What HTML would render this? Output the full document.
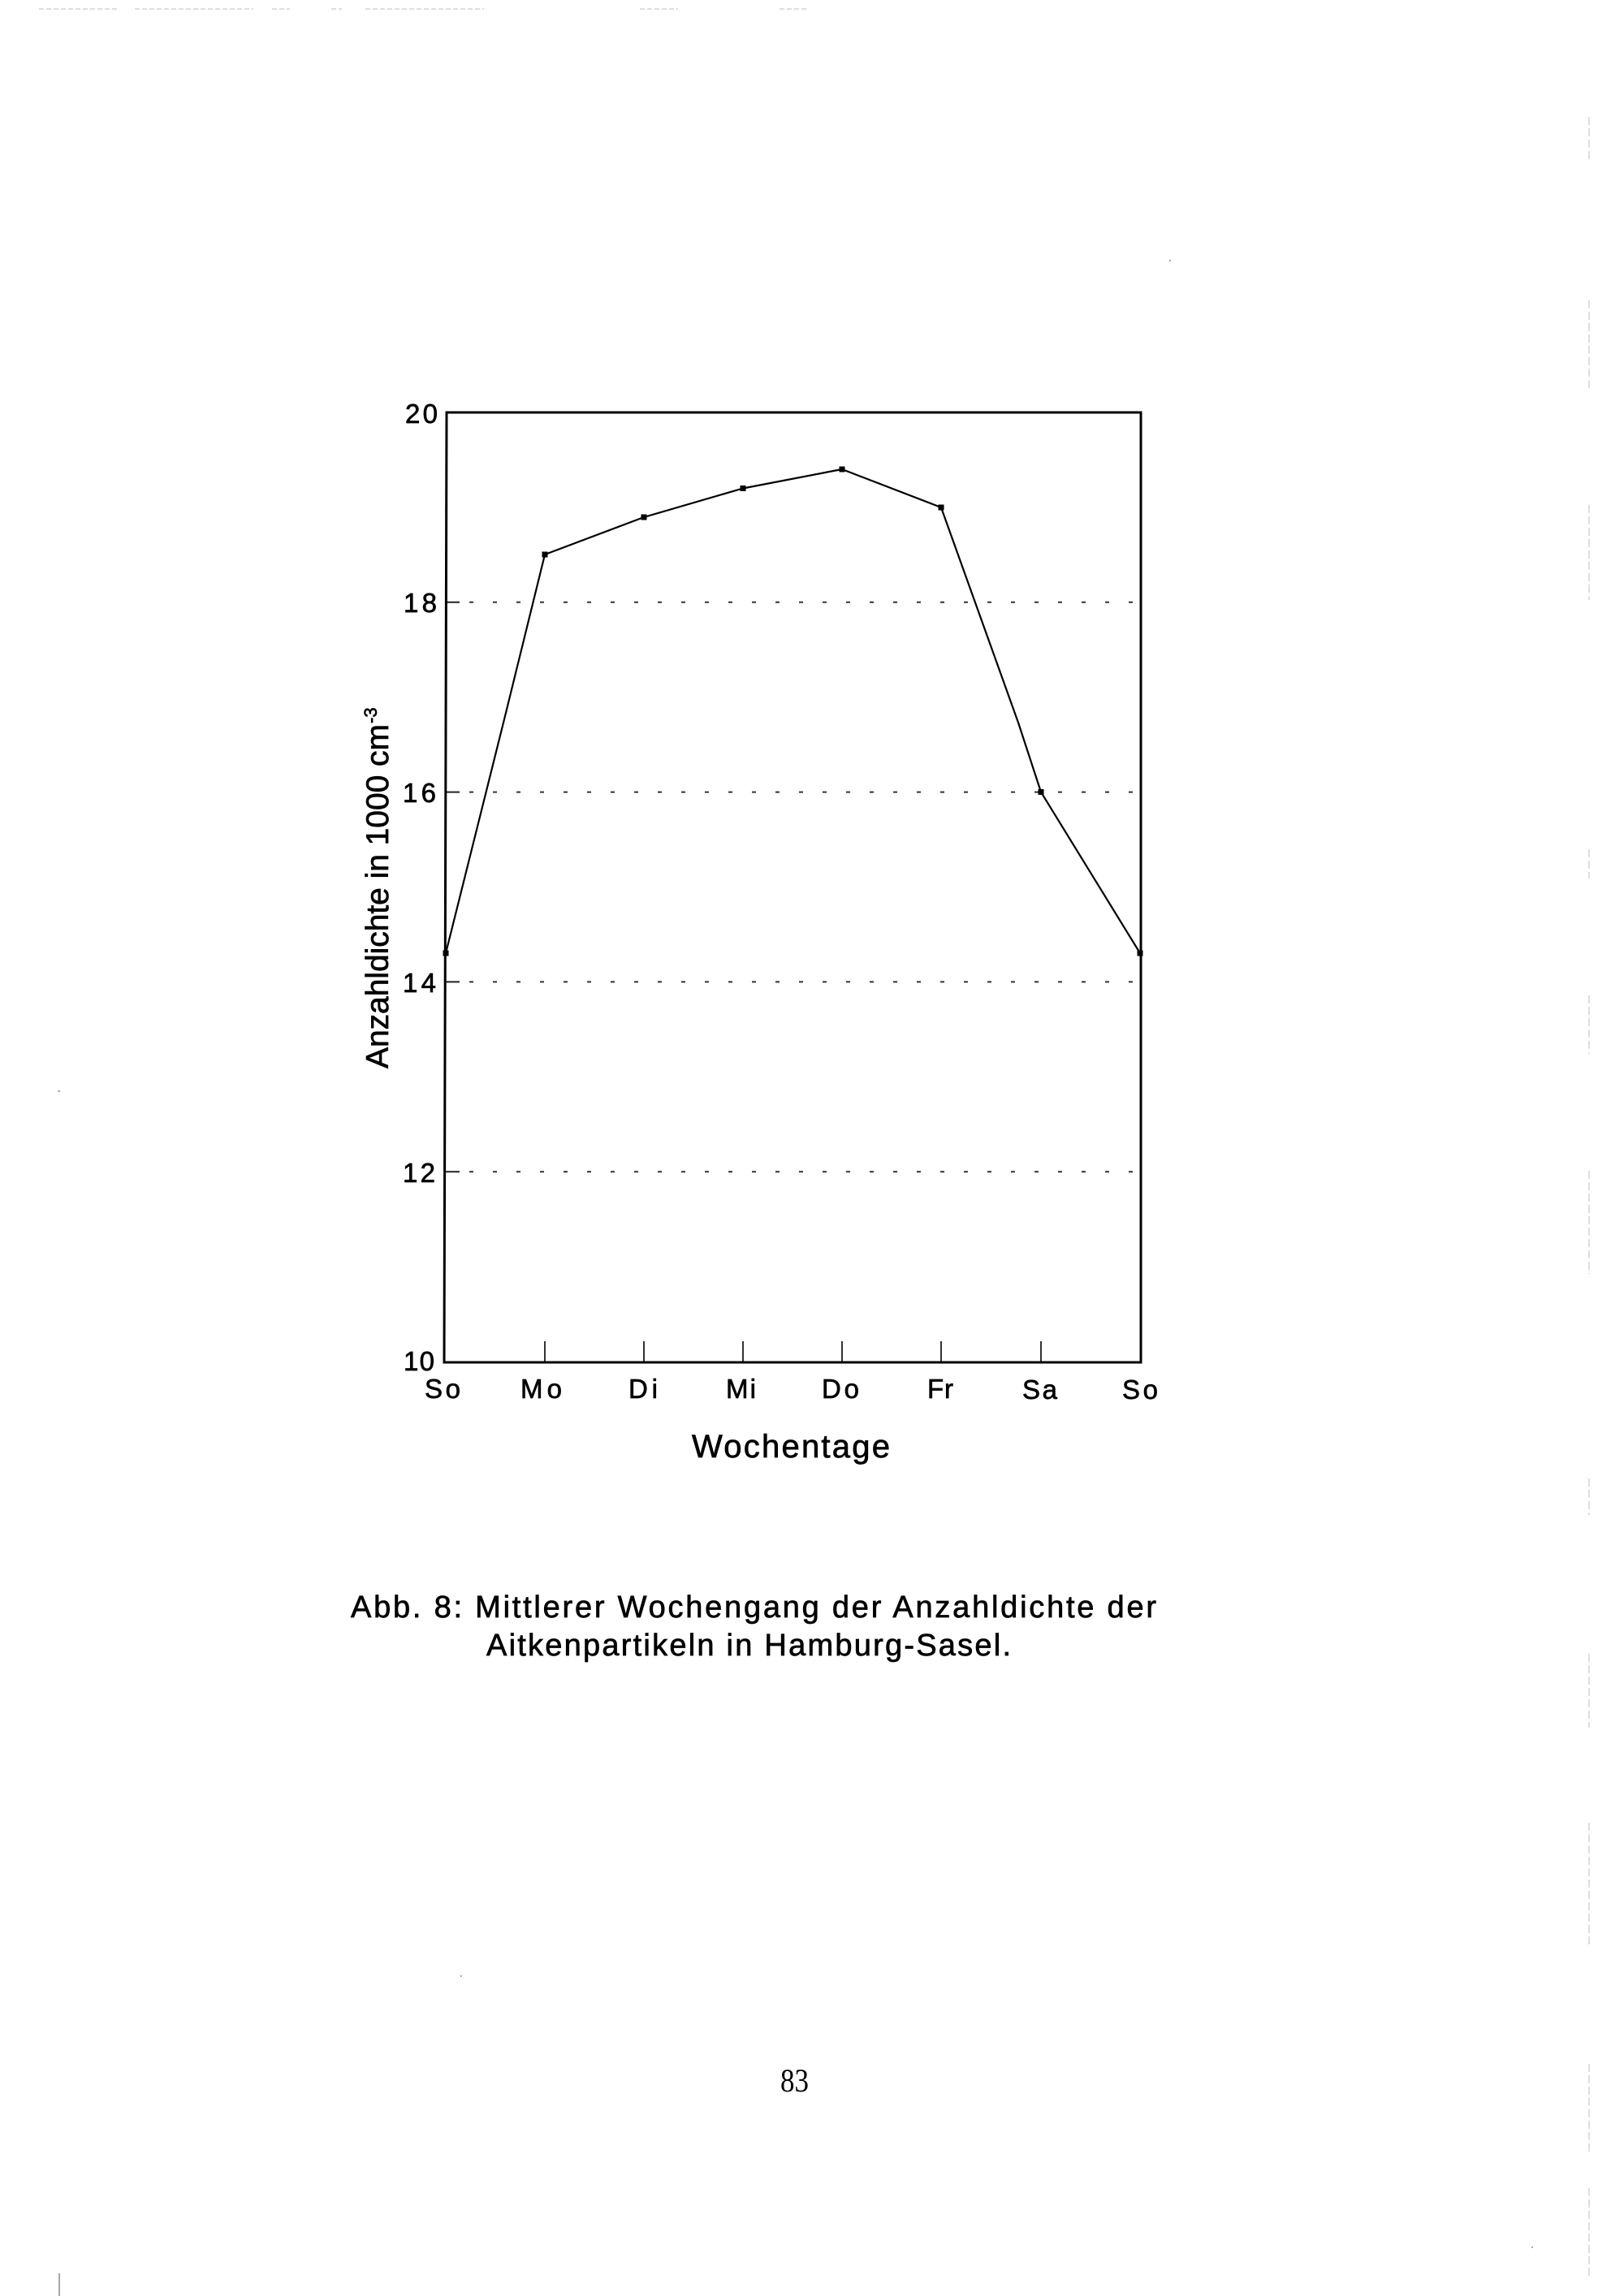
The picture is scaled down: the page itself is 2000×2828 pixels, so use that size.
<!DOCTYPE html>
<html><head><meta charset="utf-8"><style>
html,body{margin:0;padding:0;background:#fff;}
svg{display:block;}
text{font-family:"Liberation Sans",Arial,sans-serif;fill:#000;}
.b{stroke:#000;stroke-width:0.7;}
</style></head><body>
<svg width="2000" height="2828" viewBox="0 0 2000 2828" xmlns="http://www.w3.org/2000/svg">
<rect x="0" y="0" width="2000" height="2828" fill="#fff"/>
<!-- scan artifacts -->
<g stroke="#d4d4d4" stroke-width="1.5" fill="none">
<path d="M48 11H147M166 11H312M335 11H357M408 11H421M450 11H596M788 11H835M960 11H995" stroke-dasharray="6 3"/>
<path d="M1957 144V198M1957 370V478M1957 622V739M1957 1046V1082M1957 1226V1298M1957 1442V1569M1957 1821V1866M1957 2037V2128M1957 2245V2398M1957 2542V2650M1957 2695V2804" stroke-dasharray="10 4"/>
<path d="M73 2800V2828" stroke="#888"/>
</g>
<g fill="#aaa"><rect x="71" y="1343" width="3" height="2"/><rect x="1440" y="320" width="2" height="2"/><rect x="567" y="2433" width="2" height="2"/><rect x="1886" y="2767" width="2" height="2"/></g>

<!-- gridlines -->
<g stroke="#222" stroke-width="2" fill="none">
<path d="M549 741.8H566M549 975.6H566M549 1209.4H566M549 1443.2H566"/>
<path d="M578 741.8H1400M578 975.6H1400M578 1209.4H1400M578 1443.2H1400" stroke-dasharray="5 24" stroke="#333"/>
</g>

<!-- x ticks -->
<g stroke="#000" stroke-width="1.6">
<path d="M671 1677V1652M793 1677V1652M915 1677V1652M1037 1677V1652M1159 1677V1652M1282 1677V1652"/>
</g>

<!-- box -->
<path d="M550 508H1405V1678H547Z" fill="none" stroke="#000" stroke-width="3"/>

<!-- data -->
<polyline points="549,1174 622,882 671,683 793,637 915,601.5 1037,578 1159,625 1254,890 1282,975.6 1404,1174" fill="none" stroke="#000" stroke-width="2.2" stroke-linejoin="round"/>
<g fill="#000">
<rect x="545.5" y="1170.5" width="7" height="7"/>
<rect x="667.5" y="679.5" width="7" height="7"/>
<rect x="789.5" y="633.5" width="7" height="7"/>
<rect x="911.5" y="598" width="7" height="7"/>
<rect x="1033.5" y="574.5" width="7" height="7"/>
<rect x="1155.5" y="621.5" width="7" height="7"/>
<rect x="1278.5" y="972" width="7" height="7"/>
<rect x="1400.5" y="1170.5" width="7" height="7"/>
</g>

<!-- y tick labels -->
<g font-size="33" text-anchor="end" class="b">
<text x="539" y="521" textLength="40" lengthAdjust="spacing">20</text>
<text x="538" y="754" textLength="41" lengthAdjust="spacing">18</text>
<text x="537" y="988" textLength="41" lengthAdjust="spacing">16</text>
<text x="537" y="1222" textLength="41" lengthAdjust="spacing">14</text>
<text x="536" y="1456" textLength="40" lengthAdjust="spacing">12</text>
<text x="535" y="1688" textLength="38" lengthAdjust="spacing">10</text>
</g>

<!-- x tick labels -->
<g font-size="33" class="b">
<text x="523" y="1722" textLength="44" lengthAdjust="spacing">So</text>
<text x="641" y="1722" textLength="51" lengthAdjust="spacing">Mo</text>
<text x="774" y="1722" textLength="36" lengthAdjust="spacing">Di</text>
<text x="894" y="1722" textLength="37" lengthAdjust="spacing">Mi</text>
<text x="1012" y="1722" textLength="46" lengthAdjust="spacing">Do</text>
<text x="1142" y="1722" textLength="32" lengthAdjust="spacing">Fr</text>
<text x="1259" y="1723" textLength="43" lengthAdjust="spacing">Sa</text>
<text x="1382" y="1723" textLength="44" lengthAdjust="spacing">So</text>
</g>

<!-- axis titles -->
<text x="852" y="1795" font-size="40" class="b" textLength="244" lengthAdjust="spacing">Wochentage</text>
<text transform="translate(478,1316) rotate(-90)" x="0" y="0" font-size="39" class="b" textLength="424" lengthAdjust="spacing">Anzahldichte in 1000 cm</text>
<text transform="translate(478,891) rotate(-90)" x="0" y="-14" font-size="22" class="b">-3</text>

<!-- caption -->
<text x="432" y="1992" font-size="38" class="b" textLength="992" lengthAdjust="spacing">Abb. 8: Mittlerer Wochengang der Anzahldichte der</text>
<text x="599" y="2039" font-size="38" class="b" textLength="646" lengthAdjust="spacing">Aitkenpartikeln in Hamburg-Sasel.</text>

<!-- page number -->
<text x="961" y="2576" font-size="40" textLength="35" lengthAdjust="spacingAndGlyphs" style="font-family:'Liberation Serif',serif">83</text>
</svg>
</body></html>
